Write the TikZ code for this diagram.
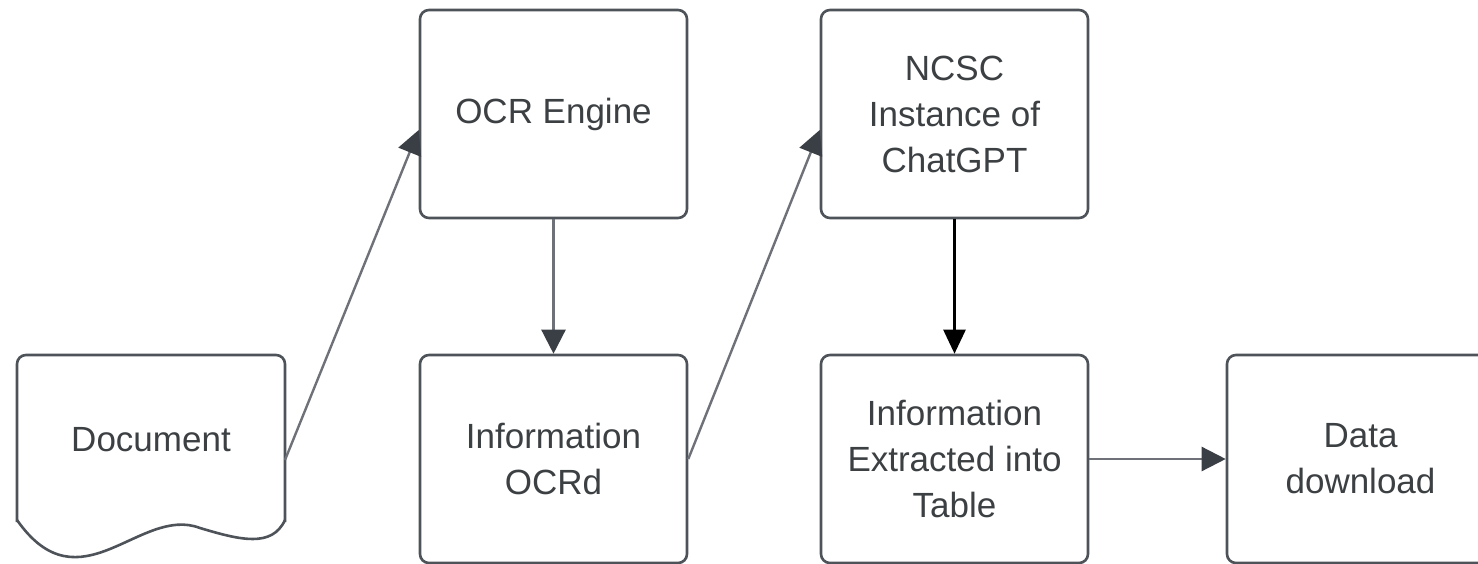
\documentclass[tikz,border=0pt]{standalone}
\usepackage{fontspec}
\setmainfont{Liberation Sans}
\usetikzlibrary{arrows.meta,calc}
\definecolor{boxline}{HTML}{4E535A}
\definecolor{connline}{HTML}{6E7278}
\definecolor{tipcol}{HTML}{3A3F46}
\definecolor{txt}{HTML}{3C4043}
\tikzset{
  procbox/.style={draw=boxline, line width=2.6pt, rounded corners=9pt, minimum width=267pt, minimum height=208pt, align=center, text=txt, font=\fontsize{35}{46}\selectfont, inner sep=0pt},
  lbl/.style={align=center, text=txt, font=\fontsize{35}{46}\selectfont, inner sep=0pt},
  conn/.style={draw=connline, line width=2.4pt, -{Triangle[length=24pt,width=24pt,fill=tipcol,color=tipcol]}},
  connblack/.style={draw=black, line width=2.6pt, -{Triangle[length=24pt,width=22pt]}}
}
\begin{document}
\begin{tikzpicture}[x=1pt,y=-1pt]
\clip (0,0) rectangle (1478,564);
\fill[white] (0,0) rectangle (1478,564);
% document shape
\draw[boxline, line width=2.6pt, rounded corners=9pt] (17,522) -- (17,355) -- (285,355) -- (285,522);
\draw[boxline, line width=2.6pt] (285,520) .. controls (272,548) and (240,540) .. (200,528) .. controls (140,505) and (80,610) .. (17,520);
\node[lbl] (doc) at (151,440) {Document};
\coordinate (docR) at (285,460);
% boxes
\node[procbox] (ocr) at (553.5,114) {OCR Engine};
\node[procbox] (info) at (553.5,459) {Information\\OCRd};
\node[procbox] (ncsc) at (954.5,114) {NCSC\\Instance of\\ChatGPT};
\node[procbox] (extr) at (954.5,459) {Information\\Extracted into\\Table};
\node[procbox] (data) at (1360.5,459) {Data\\download};
% connectors
\draw[conn] (docR) -- ($(ocr.west)+(0,16)$);
\draw[conn] (ocr.south) -- (info.north);
\draw[conn] (info.east) -- ($(ncsc.west)+(0,16)$);
\draw[connblack] (ncsc.south) -- (extr.north);
\draw[conn] (extr.east) -- (data.west);
\end{tikzpicture}
\end{document}
